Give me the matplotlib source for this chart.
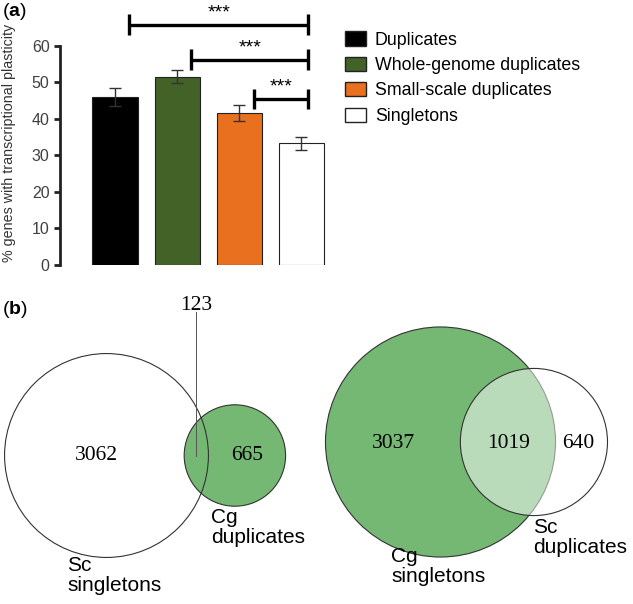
import numpy as np
import matplotlib
matplotlib.use("Agg")
import matplotlib.pyplot as plt
from matplotlib.patches import Circle, Patch

# ---------------- data ----------------
categories = ["Duplicates", "Whole-genome duplicates", "Small-scale duplicates", "Singletons"]
pct_plastic = [46.0, 51.6, 41.6, 33.3]
pct_err = [2.5, 1.9, 2.3, 1.7]
bar_colors = ["#000000", "#436228", "#E8701E", "#FFFFFF"]
sig_pairs = [(0, 3), (1, 3), (2, 3)]
sig_labels = ["***", "***", "***"]
yticks = [0, 10, 20, 30, 40, 50, 60]

# Venn (b): left = Sc singletons vs Cg duplicates ; right = Cg singletons vs Sc duplicates
venn_left_counts = [3062, 123, 665]     # only A, A&B, only B
venn_left_names = ["Sc\nsingletons", "Cg\nduplicates"]
venn_right_counts = [3037, 1019, 640]
venn_right_names = ["Cg\nsingletons", "Sc\nduplicates"]

plt.rcParams["font.family"] = ["Liberation Sans", "DejaVu Sans"]
plt.rcParams["mathtext.fontset"] = "custom"
plt.rcParams["mathtext.rm"] = "Liberation Sans"
plt.rcParams["mathtext.bf"] = "Liberation Sans:bold"
W, H = 633, 604
fig = plt.figure(figsize=(W / 100, H / 100), dpi=100)

# ---------------- panel (a) ----------------
ax = fig.add_axes([60 / W, 1 - 265 / H, 270 / W, 263 / H])
x = np.arange(len(categories))
ax.bar(x, pct_plastic, width=0.73, color=bar_colors, edgecolor="#222222", linewidth=0.8, zorder=2)
ax.errorbar(x, pct_plastic, yerr=pct_err, fmt="none", ecolor="#333333", elinewidth=1.0,
            capsize=4, capthick=1.0, zorder=3)
ax.set_xlim(-0.887, 3.46)
ax.set_ylim(0, 72)
ax.set_yticks(yticks)
ax.tick_params(axis="y", labelsize=11.5, labelcolor="#404040", width=2, length=4, color="#222222")
ax.tick_params(axis="x", bottom=False, labelbottom=False)
for s in ["top", "right", "bottom"]:
    ax.spines[s].set_visible(False)
ax.spines["left"].set_bounds(0, 60)
ax.spines["left"].set_linewidth(2)
ax.spines["left"].set_color("#222222")
ax.set_ylabel("% genes with transcriptional plasticity", fontsize=10.3, color="#333333")
ax.yaxis.set_label_coords(-0.163, 0.465)

bracket_y = [65.8, 56.2, 45.5]
for (i, j), lab, yb in zip(sig_pairs, sig_labels, bracket_y):
    x0 = x[i] + 0.23
    x1 = x[j] + 0.105
    ax.plot([x0, x1], [yb, yb], color="black", lw=2.4, clip_on=False, solid_capstyle="butt")
    for xx in (x0, x1):
        ax.plot([xx, xx], [yb - 2.7, yb + 2.8], color="black", lw=2.4, clip_on=False,
                solid_capstyle="butt")
    ax.text((x0 + x1) / 2, yb + 1.0, lab, ha="center", va="bottom", fontsize=14, clip_on=False)

fig.text(2 / W, 1 - 12 / H, r"($\mathbf{a}$)", fontsize=14, va="center", ha="left")

handles = [Patch(facecolor=c, edgecolor="#222222", linewidth=1.0) for c in bar_colors]
fig.legend(handles, categories, loc="upper left", bbox_to_anchor=(345 / W, 1 - 31.5 / H),
           frameon=False, fontsize=12.8, handlelength=1.18, handleheight=0.84,
           handletextpad=0.5, labelspacing=0.46, borderpad=0, borderaxespad=0)

# ---------------- panel (b) ----------------
vax = fig.add_axes([0, 0, 1, 1], zorder=-1)
vax.set_xlim(0, W)
vax.set_ylim(H, 0)
vax.axis("off")

AREA_PER_GENE = 10.25  # px^2 per gene


def lens_area(r1, r2, d):
    if d >= r1 + r2:
        return 0.0
    if d <= abs(r1 - r2):
        return np.pi * min(r1, r2) ** 2
    a1 = r1 ** 2 * np.arccos((d ** 2 + r1 ** 2 - r2 ** 2) / (2 * d * r1))
    a2 = r2 ** 2 * np.arccos((d ** 2 + r2 ** 2 - r1 ** 2) / (2 * d * r2))
    a3 = 0.5 * np.sqrt((-d + r1 + r2) * (d + r1 - r2) * (d - r1 + r2) * (d + r1 + r2))
    return a1 + a2 - a3


def venn_geometry(counts):
    a_only, ab, b_only = counts
    r1 = np.sqrt(AREA_PER_GENE * (a_only + ab) / np.pi)
    r2 = np.sqrt(AREA_PER_GENE * (b_only + ab) / np.pi)
    target = AREA_PER_GENE * ab
    lo, hi = abs(r1 - r2), r1 + r2
    for _ in range(80):
        mid = (lo + hi) / 2
        if lens_area(r1, r2, mid) > target:
            lo = mid
        else:
            hi = mid
    return r1, r2, (lo + hi) / 2


GREEN = "#74B874"
EDGE = "#333333"
serif = ["Liberation Serif", "DejaVu Serif"]
NUM_FS = 15.5
LAB_FS = 15

# left venn
r1, r2, d = venn_geometry(venn_left_counts)
cx1, cy = 106.5, 455.5
cx2 = cx1 + d
vax.add_patch(Circle((cx1, cy), r1, facecolor="white", edgecolor="none"))
vax.add_patch(Circle((cx2, cy), r2, facecolor=GREEN, edgecolor=EDGE, lw=0.8))
vax.add_patch(Circle((cx1, cy), r1, facecolor="none", edgecolor=EDGE, lw=0.8))
lens_x = ((cx2 - r2) + (cx1 + r1)) / 2
vax.plot([lens_x, lens_x], [312, cy], color="#555555", lw=0.7)
vax.text(lens_x, 305, str(venn_left_counts[1]), fontsize=NUM_FS, family=serif, ha="center", va="center")
vax.text(96, cy, str(venn_left_counts[0]), fontsize=NUM_FS, family=serif, ha="center", va="center")
vax.text(247, cy, str(venn_left_counts[2]), fontsize=NUM_FS, family=serif, ha="center", va="center")
vax.text(67, 556, venn_left_names[0], fontsize=LAB_FS, ha="left", va="top", linespacing=1.05)
vax.text(211, 508, venn_left_names[1], fontsize=LAB_FS, ha="left", va="top", linespacing=1.05)

# right venn
R1, R2, D = venn_geometry(venn_right_counts)
bx1, by = 440.5, 442
bx2 = bx1 + D
vax.add_patch(Circle((bx1, by), R1, facecolor=GREEN, edgecolor=EDGE, lw=0.8))
vax.add_patch(Circle((bx2, by), R2, facecolor=(1, 1, 1, 0.5), edgecolor=EDGE, lw=0.8))
vax.text(393.7, by + 1, str(venn_right_counts[0]), fontsize=NUM_FS, family=serif, ha="center", va="center")
vax.text(509, by + 1, str(venn_right_counts[1]), fontsize=NUM_FS, family=serif, ha="center", va="center")
vax.text(578, by + 1, str(venn_right_counts[2]), fontsize=NUM_FS, family=serif, ha="center", va="center")
vax.text(391, 547, venn_right_names[0], fontsize=LAB_FS, ha="left", va="top", linespacing=1.05)
vax.text(533, 518, venn_right_names[1], fontsize=LAB_FS, ha="left", va="top", linespacing=1.05)

fig.text(2 / W, 1 - 310 / H, r"($\mathbf{b}$)", fontsize=14, va="center", ha="left")

fig.savefig("out.png", dpi=100)
